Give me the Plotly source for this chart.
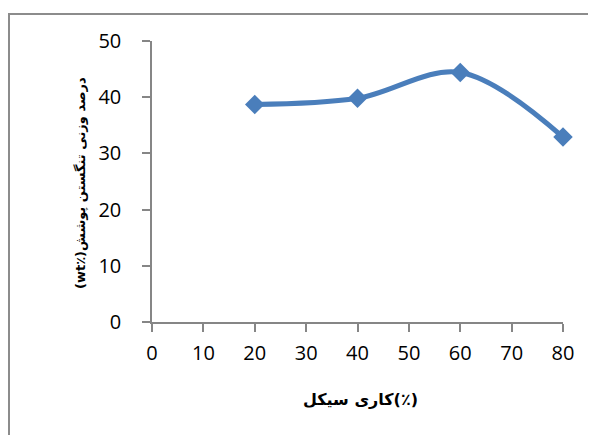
import plotly.graph_objects as go

# Data
duty_cycle = [20, 40, 60, 80]
tungsten_wt = [38.7, 39.8, 44.4, 32.9]
x_ticks = [0, 10, 20, 30, 40, 50, 60, 70, 80]
y_ticks = [0, 10, 20, 30, 40, 50]

x_title = "کاری سیکل(٪)"
y_title = "(wt٪)درصد وزنی تنگستن پوشش"

# page has an 8px body margin, so work in figure coordinates = screen - 8
OFF = 8
W, H = 596 - OFF, 435 - OFF
L, R, T, B = 152 - OFF, 596 - 563, 41 - OFF, 435 - 322
pw, ph = W - L - R, H - T - B

def sx(px):
    return (px - OFF - L) / pw

def sy(py):
    return (H - B - (py - OFF)) / ph

fig = go.Figure()
fig.add_trace(go.Scatter(
    x=duty_cycle, y=tungsten_wt,
    mode="lines+markers",
    line=dict(color="#4A7EBB", width=5, shape="spline", smoothing=1),
    marker=dict(symbol="diamond", size=15, color="#4A7EBB"),
    cliponaxis=False,
    showlegend=False,
))

axis_common = dict(
    showgrid=False, zeroline=False, showline=True,
    linecolor="#868686", linewidth=1.5,
    ticks="outside", ticklen=8, tickcolor="#868686", tickwidth=1.5,
    tickfont=dict(family="Open Sans", size=20, color="#000000"),
)

frame = dict(color="#8C8C8C", width=2)
fig.update_layout(
    width=W, height=H,
    margin=dict(l=L, r=R, t=T, b=B),
    paper_bgcolor="white", plot_bgcolor="white",
    xaxis=dict(range=[0, 80], tickvals=x_ticks, ticklabelstandoff=4, **axis_common),
    yaxis=dict(range=[0, 50], tickvals=y_ticks, ticklabelstandoff=17, **axis_common),
    shapes=[
        dict(type="line", xref="paper", yref="paper",
             x0=sx(9), x1=sx(9), y0=sy(13), y1=sy(460), line=frame, layer="above"),
        dict(type="line", xref="paper", yref="paper",
             x0=sx(9), x1=sx(620), y0=sy(14), y1=sy(14), line=frame, layer="above"),
    ],
    annotations=[
        dict(text="<b>" + x_title + "</b>", xref="paper", yref="paper",
             x=sx(360), y=sy(399),
             xanchor="center", yanchor="middle", showarrow=False,
             font=dict(family="DejaVu Sans", size=16, color="#000000")),
        dict(text="<b>" + y_title + "</b>", xref="paper", yref="paper",
             x=sx(81), y=sy(183),
             xanchor="center", yanchor="middle", showarrow=False, textangle=-90,
             font=dict(family="DejaVu Sans", size=13, color="#000000")),
    ],
)

fig.write_html("out.html")
